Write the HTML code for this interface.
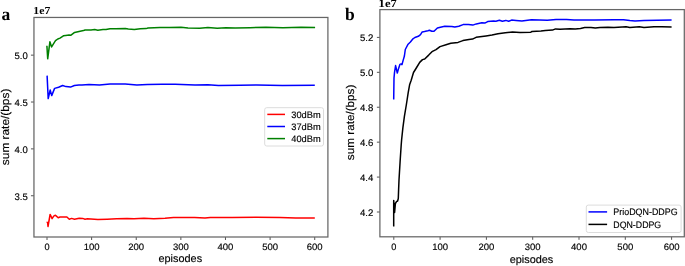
<!DOCTYPE html><html><head><meta charset="utf-8"><style>html,body{margin:0;padding:0;background:#fff;overflow:hidden}svg{display:block;will-change:transform}text{font-family:"Liberation Sans",sans-serif;fill:#000;text-rendering:geometricPrecision}.t{stroke:#000;stroke-width:0.15px}.s{font-family:"Liberation Serif",serif;font-weight:bold}</style></head><body>
<svg width="685" height="266" viewBox="0 0 685 266">
<rect width="685" height="266" fill="#fff"/>
<line x1="47.00" y1="237.00" x2="47.00" y2="240.00" stroke="#555" stroke-width="1.0"/>
<text class="t" x="47.00" y="249.6" font-size="9.2" text-anchor="middle">0</text>
<line x1="91.62" y1="237.00" x2="91.62" y2="240.00" stroke="#555" stroke-width="1.0"/>
<text class="t" x="91.62" y="249.6" font-size="9.2" text-anchor="middle" textLength="15.9" lengthAdjust="spacingAndGlyphs">100</text>
<line x1="136.24" y1="237.00" x2="136.24" y2="240.00" stroke="#555" stroke-width="1.0"/>
<text class="t" x="136.24" y="249.6" font-size="9.2" text-anchor="middle" textLength="15.9" lengthAdjust="spacingAndGlyphs">200</text>
<line x1="180.86" y1="237.00" x2="180.86" y2="240.00" stroke="#555" stroke-width="1.0"/>
<text class="t" x="180.86" y="249.6" font-size="9.2" text-anchor="middle" textLength="15.9" lengthAdjust="spacingAndGlyphs">300</text>
<line x1="225.48" y1="237.00" x2="225.48" y2="240.00" stroke="#555" stroke-width="1.0"/>
<text class="t" x="225.48" y="249.6" font-size="9.2" text-anchor="middle" textLength="15.9" lengthAdjust="spacingAndGlyphs">400</text>
<line x1="270.10" y1="237.00" x2="270.10" y2="240.00" stroke="#555" stroke-width="1.0"/>
<text class="t" x="270.10" y="249.6" font-size="9.2" text-anchor="middle" textLength="15.9" lengthAdjust="spacingAndGlyphs">500</text>
<line x1="314.72" y1="237.00" x2="314.72" y2="240.00" stroke="#555" stroke-width="1.0"/>
<text class="t" x="314.72" y="249.6" font-size="9.2" text-anchor="middle" textLength="15.9" lengthAdjust="spacingAndGlyphs">600</text>
<line x1="30.95" y1="55.15" x2="33.95" y2="55.15" stroke="#555" stroke-width="1.0"/>
<text class="t" x="27.80" y="59.15" font-size="9.5" text-anchor="end" textLength="13.3" lengthAdjust="spacingAndGlyphs">5.0</text>
<line x1="30.95" y1="102.02" x2="33.95" y2="102.02" stroke="#555" stroke-width="1.0"/>
<text class="t" x="27.80" y="106.02" font-size="9.5" text-anchor="end" textLength="13.3" lengthAdjust="spacingAndGlyphs">4.5</text>
<line x1="30.95" y1="148.88" x2="33.95" y2="148.88" stroke="#555" stroke-width="1.0"/>
<text class="t" x="27.80" y="152.88" font-size="9.5" text-anchor="end" textLength="13.3" lengthAdjust="spacingAndGlyphs">4.0</text>
<line x1="30.95" y1="195.75" x2="33.95" y2="195.75" stroke="#555" stroke-width="1.0"/>
<text class="t" x="27.80" y="199.75" font-size="9.5" text-anchor="end" textLength="13.3" lengthAdjust="spacingAndGlyphs">3.5</text>
<rect x="33.95" y="17.45" width="293.95" height="219.55" fill="none" stroke="#666" stroke-width="1.25"/>
<polyline points="46.6,222.3 47.6,222.4 48.0,226.5 50.1,214.5 50.8,215.7 52.1,218.6 53.7,216.1 55.4,215.2 56.4,216.1 58.2,217.7 60.0,217.0 64.0,217.0 66.9,217.0 69.3,219.2 71.6,218.4 74.5,219.2 79.2,218.2 82.7,218.4 85.0,219.2 87.4,218.8 97.9,219.6 107.2,219.3 116.6,218.8 127.0,218.5 134.0,218.8 144.0,218.3 153.8,218.7 165.0,218.2 173.5,217.6 194.6,217.6 205.0,218.1 210.3,217.5 232.0,217.6 256.3,217.3 280.0,217.5 295.7,218.1 314.8,217.9" fill="none" stroke="#ff0000" stroke-width="1.5" stroke-linejoin="round"/>
<polyline points="47.1,75.6 48.2,98.6 50.2,90.0 51.7,95.6 54.6,88.4 58.6,87.2 62.6,85.5 66.0,86.6 70.5,87.1 74.4,85.5 78.9,85.0 82.0,84.9 89.0,84.4 99.5,84.9 110.0,83.9 125.2,84.1 136.9,85.1 147.4,84.6 162.0,84.2 175.2,84.3 195.0,85.1 207.9,84.7 218.4,85.5 240.0,85.3 256.7,84.9 282.4,85.5 314.8,85.3" fill="none" stroke="#0000ff" stroke-width="1.5" stroke-linejoin="round"/>
<polyline points="46.9,45.8 47.7,58.8 49.9,41.8 51.6,46.9 53.3,44.1 55.5,40.7 57.8,39.0 60.0,38.1 63.4,35.8 65.7,35.4 69.1,34.9 71.0,35.2 74.6,32.4 79.0,31.4 83.5,30.6 85.0,30.0 91.0,30.0 94.8,29.6 97.8,30.2 103.0,29.6 106.0,29.6 110.0,28.7 115.5,28.7 125.3,28.4 128.3,29.0 134.3,29.4 140.3,28.7 146.0,28.6 148.0,28.0 160.0,27.4 169.4,27.6 181.0,27.3 188.0,27.9 199.7,28.3 207.9,27.6 217.2,28.3 226.0,27.7 235.2,28.1 250.0,27.7 266.0,27.2 282.9,27.8 301.0,27.2 315.1,27.4" fill="none" stroke="#008000" stroke-width="1.5" stroke-linejoin="round"/>
<rect x="264.7" y="107.7" width="58.8" height="38.3" rx="2" ry="2" fill="#fff" fill-opacity="0.8" stroke="#dcdcdc" stroke-width="1.0"/>
<line x1="267.3" y1="114.40" x2="285" y2="114.40" stroke="#ff0000" stroke-width="1.5"/>
<text class="t" x="291.3" y="117.70" font-size="9.4" textLength="29.4" lengthAdjust="spacingAndGlyphs">30dBm</text>
<line x1="267.3" y1="126.50" x2="285" y2="126.50" stroke="#0000ff" stroke-width="1.5"/>
<text class="t" x="291.3" y="129.80" font-size="9.4" textLength="29.4" lengthAdjust="spacingAndGlyphs">37dBm</text>
<line x1="267.3" y1="138.60" x2="285" y2="138.60" stroke="#008000" stroke-width="1.5"/>
<text class="t" x="291.3" y="141.90" font-size="9.4" textLength="29.4" lengthAdjust="spacingAndGlyphs">40dBm</text>
<text class="t" x="180.3" y="261.6" font-size="10.8" text-anchor="middle" textLength="43.6" lengthAdjust="spacingAndGlyphs">episodes</text>
<text transform="translate(8.8,126.9) rotate(-90)" x="0" y="0" class="t" font-size="11.2" text-anchor="middle" textLength="76.5" lengthAdjust="spacingAndGlyphs">sum rate/(bps)</text>
<text class="s" x="33.3" y="14.0" font-size="10.8" textLength="17.0" lengthAdjust="spacingAndGlyphs">1e7</text>
<text class="s" x="1.5" y="19.7" font-size="17.5">a</text>
<line x1="393.80" y1="236.80" x2="393.80" y2="239.80" stroke="#555" stroke-width="1.0"/>
<text class="t" x="393.80" y="249.6" font-size="9.2" text-anchor="middle">0</text>
<line x1="440.10" y1="236.80" x2="440.10" y2="239.80" stroke="#555" stroke-width="1.0"/>
<text class="t" x="440.10" y="249.6" font-size="9.2" text-anchor="middle" textLength="15.9" lengthAdjust="spacingAndGlyphs">100</text>
<line x1="486.40" y1="236.80" x2="486.40" y2="239.80" stroke="#555" stroke-width="1.0"/>
<text class="t" x="486.40" y="249.6" font-size="9.2" text-anchor="middle" textLength="15.9" lengthAdjust="spacingAndGlyphs">200</text>
<line x1="532.70" y1="236.80" x2="532.70" y2="239.80" stroke="#555" stroke-width="1.0"/>
<text class="t" x="532.70" y="249.6" font-size="9.2" text-anchor="middle" textLength="15.9" lengthAdjust="spacingAndGlyphs">300</text>
<line x1="579.00" y1="236.80" x2="579.00" y2="239.80" stroke="#555" stroke-width="1.0"/>
<text class="t" x="579.00" y="249.6" font-size="9.2" text-anchor="middle" textLength="15.9" lengthAdjust="spacingAndGlyphs">400</text>
<line x1="625.30" y1="236.80" x2="625.30" y2="239.80" stroke="#555" stroke-width="1.0"/>
<text class="t" x="625.30" y="249.6" font-size="9.2" text-anchor="middle" textLength="15.9" lengthAdjust="spacingAndGlyphs">500</text>
<line x1="671.60" y1="236.80" x2="671.60" y2="239.80" stroke="#555" stroke-width="1.0"/>
<text class="t" x="671.60" y="249.6" font-size="9.2" text-anchor="middle" textLength="15.9" lengthAdjust="spacingAndGlyphs">600</text>
<line x1="376.90" y1="37.40" x2="379.90" y2="37.40" stroke="#555" stroke-width="1.0"/>
<text class="t" x="373.30" y="41.40" font-size="9.5" text-anchor="end" textLength="13.3" lengthAdjust="spacingAndGlyphs">5.2</text>
<line x1="376.90" y1="72.32" x2="379.90" y2="72.32" stroke="#555" stroke-width="1.0"/>
<text class="t" x="373.30" y="76.32" font-size="9.5" text-anchor="end" textLength="13.3" lengthAdjust="spacingAndGlyphs">5.0</text>
<line x1="376.90" y1="107.24" x2="379.90" y2="107.24" stroke="#555" stroke-width="1.0"/>
<text class="t" x="373.30" y="111.24" font-size="9.5" text-anchor="end" textLength="13.3" lengthAdjust="spacingAndGlyphs">4.8</text>
<line x1="376.90" y1="142.16" x2="379.90" y2="142.16" stroke="#555" stroke-width="1.0"/>
<text class="t" x="373.30" y="146.16" font-size="9.5" text-anchor="end" textLength="13.3" lengthAdjust="spacingAndGlyphs">4.6</text>
<line x1="376.90" y1="177.08" x2="379.90" y2="177.08" stroke="#555" stroke-width="1.0"/>
<text class="t" x="373.30" y="181.08" font-size="9.5" text-anchor="end" textLength="13.3" lengthAdjust="spacingAndGlyphs">4.4</text>
<line x1="376.90" y1="212.00" x2="379.90" y2="212.00" stroke="#555" stroke-width="1.0"/>
<text class="t" x="373.30" y="216.00" font-size="9.5" text-anchor="end" textLength="13.3" lengthAdjust="spacingAndGlyphs">4.2</text>
<rect x="379.90" y="9.60" width="304.40" height="227.20" fill="none" stroke="#666" stroke-width="1.25"/>
<polyline points="393.7,226.6 393.7,200.4 394.6,212.5 395.4,203.5 396.5,201.6 397.6,201.0 398.3,198.5 398.6,190.0 399.0,180.0 400.2,160.0 401.2,145.0 401.6,140.0 402.9,127.6 404.4,116.3 406.3,105.0 407.0,100.5 408.2,92.6 409.6,84.8 411.2,80.3 413.5,72.5 416.3,68.0 419.7,62.4 422.5,59.6 424.7,59.0 428.7,55.1 432.0,51.7 436.0,49.6 440.0,46.6 446.0,44.8 450.8,43.3 458.0,42.4 462.9,40.6 468.9,39.4 472.5,39.1 476.1,37.3 480.0,36.8 486.0,35.9 492.0,35.0 498.0,33.7 505.3,32.7 512.5,32.1 520.0,32.6 530.8,32.2 532.0,31.5 541.0,30.9 545.3,30.4 552.5,30.1 555.5,28.9 560.0,29.3 570.0,28.7 575.3,28.9 580.5,28.4 584.7,27.5 591.0,27.4 595.3,27.9 600.0,27.6 608.0,27.3 614.0,27.5 626.1,26.7 629.8,27.5 639.3,26.7 644.0,27.4 654.0,26.8 662.0,26.7 671.6,26.9" fill="none" stroke="#000" stroke-width="1.5" stroke-linejoin="round"/>
<polyline points="393.7,99.6 394.0,78.0 394.5,72.6 395.6,65.6 397.3,73.0 398.6,68.4 399.9,64.4 401.1,63.9 402.0,64.6 403.2,60.1 404.4,56.0 405.3,49.5 408.1,44.2 410.4,42.0 412.6,39.2 414.9,37.5 418.3,36.3 420.5,34.6 422.2,31.9 424.5,31.5 427.9,30.7 429.5,30.2 431.8,31.3 434.0,31.3 437.4,28.0 440.4,27.3 444.8,26.3 451.8,26.4 454.8,27.1 458.8,26.2 463.1,24.6 468.4,24.6 472.8,25.1 476.3,23.9 481.8,22.8 484.8,23.1 487.7,21.6 493.5,21.0 495.9,21.3 499.4,20.3 502.3,21.3 505.8,20.4 508.7,21.3 511.6,20.1 516.0,20.5 521.9,21.1 531.5,19.8 547.3,20.2 556.0,19.6 566.5,19.6 574.0,20.0 594.8,19.9 614.0,19.8 623.5,19.8 629.8,20.5 635.0,20.9 644.0,20.5 657.0,20.3 671.6,20.0" fill="none" stroke="#0000ff" stroke-width="1.5" stroke-linejoin="round"/>
<rect x="586.3" y="205.1" width="94.8" height="27.4" rx="2" ry="2" fill="#fff" fill-opacity="0.8" stroke="#dcdcdc" stroke-width="1.0"/>
<line x1="588.5" y1="211.90" x2="607.1" y2="211.90" stroke="#0000ff" stroke-width="1.5"/>
<text class="t" x="613.3" y="215.00" font-size="9.3" textLength="64.4" lengthAdjust="spacingAndGlyphs">PrioDQN-DDPG</text>
<line x1="588.5" y1="224.40" x2="607.1" y2="224.40" stroke="#000000" stroke-width="1.5"/>
<text class="t" x="613.3" y="227.50" font-size="9.3" textLength="47.9" lengthAdjust="spacingAndGlyphs">DQN-DDPG</text>
<text class="t" x="531.5" y="262.7" font-size="10.8" text-anchor="middle" textLength="43.6" lengthAdjust="spacingAndGlyphs">episodes</text>
<text transform="translate(353.7,122.4) rotate(-90)" x="0" y="0" class="t" font-size="11.2" text-anchor="middle" textLength="75.5" lengthAdjust="spacingAndGlyphs">sum rate/(bps)</text>
<text class="s" x="378.6" y="7.3" font-size="11.2" textLength="18.2" lengthAdjust="spacingAndGlyphs">1e7</text>
<text class="s" x="345.0" y="19.9" font-size="17.5">b</text>
</svg></body></html>
